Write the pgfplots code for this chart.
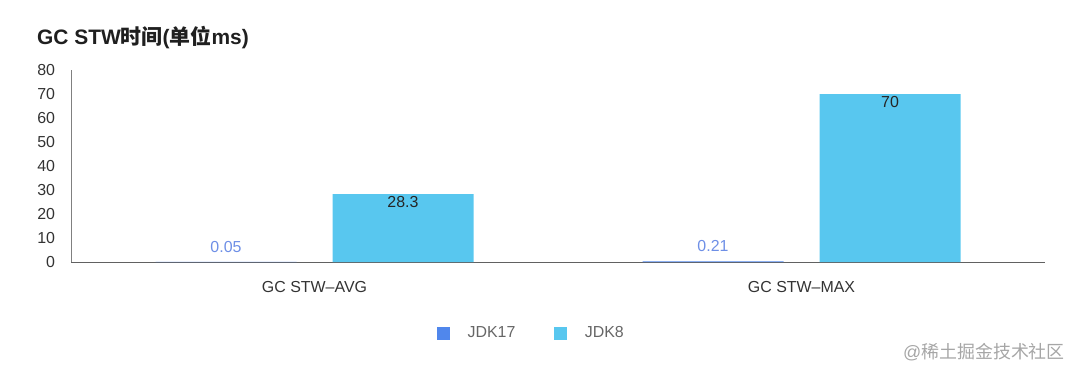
\documentclass[border=0pt]{standalone}
\usepackage{fontspec}
\usepackage{pgfplots}
\pgfplotsset{compat=1.18}
\setmainfont{Liberation Sans}
\newfontfamily\cjk{Noto Sans CJK SC}
\definecolor{jdkA}{HTML}{5087EC}
\definecolor{jdkB}{HTML}{58C7EF}
\definecolor{lblA}{HTML}{6E8FE6}
\definecolor{txt}{HTML}{333333}
\begin{document}
\begin{tikzpicture}
\path (0bp,0bp) rectangle (1080bp,376bp);
\node[anchor=west, font=\fontsize{21}{25}\selectfont\bfseries, text=black!88, inner sep=0] at (37bp,338bp) {GC STW{\cjk\bfseries 时间}({\cjk\bfseries 单位}ms)};
\node[anchor=east, font=\fontsize{18}{22}\selectfont, text=black!35, inner sep=0] at (1065bp,24bp) {@{\cjk 稀土掘金技术社区}};
\begin{axis}[
  at={(71bp,114bp)}, anchor=south west,
  scale only axis, width=974bp, height=192bp,
  xmin=-0.5, xmax=1.5, ymin=0, ymax=80,
  ytick={0,10,...,80}, xtick={0,1},
  xticklabels={GC STW--AVG, GC STW--MAX},
  /pgf/number format/assume math mode=true,
  axis x line*=bottom, axis y line*=left,
  x axis line style={-, draw=black!62, line width=1bp},
  y axis line style={-, draw=black!50, line width=1bp},
  major tick length=0pt, tick style={draw=none},
  ticklabel style={font=\fontsize{16}{19}\selectfont, text=txt},
  yticklabel style={xshift=-12.5bp},
  xticklabel style={yshift=-16bp},
  ybar, bar width=141bp,
  point meta=explicit symbolic,
  nodes near coords={\pgfplotspointmeta},
  nodes near coords style={font=\fontsize{16}{19}\selectfont},
  legend style={at={(0.3748,-0.37)}, anchor=west, draw=none, fill=none,
    inner sep=0bp, outer sep=0bp,
    legend columns=2, font=\fontsize{16}{19}\selectfont, text=black!60,
    /tikz/every even column/.append style={column sep=36bp},
    /tikz/every odd column/.append style={column sep=15bp}},
  legend image code/.code={\fill[#1, draw=white, line width=0.5bp] (0bp,-7bp) rectangle (14bp,7bp);},
  clip=false,
]
\addplot[fill=jdkA, draw=none, bar shift=-88.5bp,
  every node near coord/.append style={text=lblA, anchor=south, yshift=6bp}]
  coordinates {(0,0.05) [0.05] (1,0.21) [0.21]};
\addlegendentry{JDK17}
\addplot[fill=jdkB, draw=none, bar shift=88.5bp,
  every node near coord/.append style={text=black!85, anchor=north, yshift=1bp}]
  coordinates {(0,28.3) [28.3] (1,70) [70]};
\addlegendentry{JDK8}
\end{axis}
\end{tikzpicture}
\end{document}
